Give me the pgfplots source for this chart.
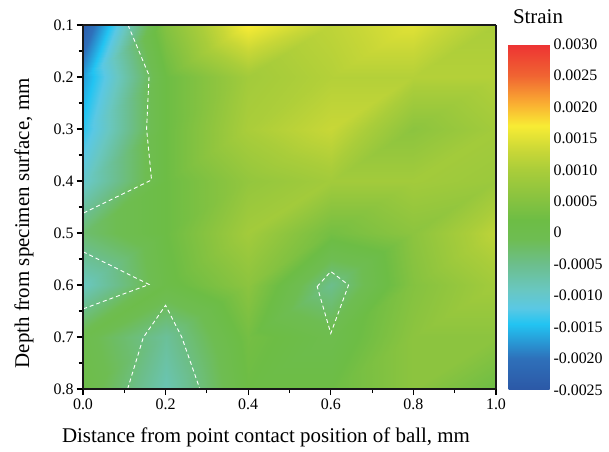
\documentclass[border=0pt]{standalone}
\usepackage{pgfplots}
\pgfplotsset{compat=1.18}
\usepackage{fontspec}
\setmainfont{Liberation Serif}

% strain values on the measuring grid, x varies fastest
\pgfplotstableread{
x   y   z
0.0 0.1 -0.0024
0.2 0.1 0.0005
0.4 0.1 0.0017
0.6 0.1 0.0012
0.8 0.1 0.0015
1.0 0.1 0.0010
0.0 0.2 -0.0017
0.2 0.2 0.0002
0.4 0.2 0.0009
0.6 0.2 0.0011
0.8 0.2 0.0011
1.0 0.2 0.0011
0.0 0.3 -0.0014
0.2 0.3 0.0002
0.4 0.3 0.0010
0.6 0.3 0.0013
0.8 0.3 0.0006
1.0 0.3 0.0009
0.0 0.4 -0.0010
0.2 0.4 0.0002
0.4 0.4 0.0007
0.6 0.4 0.0009
0.8 0.4 0.0009
1.0 0.4 0.0008
0.0 0.5 -0.0003
0.2 0.5 0.0002
0.4 0.5 0.0009
0.6 0.5 0.0003
0.8 0.5 0.0006
1.0 0.5 0.0012
0.0 0.6 -0.0009
0.2 0.6 0.0001
0.4 0.6 0.0006
0.6 0.6 -0.0005
0.8 0.6 0.0005
1.0 0.6 0.0009
0.0 0.7 0.0000
0.2 0.7 -0.0006
0.4 0.7 0.0003
0.6 0.7 0.0000
0.8 0.7 0.0006
1.0 0.7 0.0006
0.0 0.8 0.0001
0.2 0.8 -0.0008
0.4 0.8 0.0002
0.6 0.8 0.0002
0.8 0.8 0.0006
1.0 0.8 0.0002
}\straindata

\begin{document}
\begin{tikzpicture}
\begin{axis}[
    name=main,
    view={0}{90},
    scale only axis,
    width=413bp, height=364bp,
    xmin=0, xmax=1, ymin=0.1, ymax=0.8,
    y dir=reverse,
    enlargelimits=false,
    axis on top,
    xtick={0,0.2,...,1.0},
    ytick={0.1,0.2,...,0.8},
    minor tick num=1,
    tick pos=left,
    tick align=outside,
    major tick length=6bp,
    minor tick length=4bp,
    every tick/.style={line width=1.1bp, black},
    axis line style={line width=1.2bp, black!90},
    xticklabel style={/pgf/number format/.cd, fixed, fixed zerofill, precision=1},
    yticklabel style={/pgf/number format/.cd, fixed, fixed zerofill, precision=1},
    /pgf/number format/assume math mode=true,
    tick label style={font=\fontsize{16}{18}\selectfont},
    label style={font=\fontsize{21}{24}\selectfont},
    xlabel={Distance from point contact position of ball, mm},
    ylabel={Depth from specimen surface, mm},
    xlabel style={at={(axis description cs:0.443,-0.132)}, anchor=center},
    ylabel style={at={(axis description cs:-0.143,0.455)}, anchor=center},
    colormap={strain}{
        rgb255(0pt)=(44,88,166);
        rgb255(5pt)=(46,112,186);
        rgb255(10.5pt)=(34,196,242);
        rgb255(13pt)=(90,200,228);
        rgb255(16pt)=(105,199,192);
        rgb255(20pt)=(108,190,140);
        rgb255(24pt)=(110,189,82);
        rgb255(27pt)=(109,189,69);
        rgb255(31pt)=(140,196,63);
        rgb255(35pt)=(170,205,58);
        rgb255(38pt)=(200,215,55);
        rgb255(42pt)=(248,236,52);
        rgb255(45.5pt)=(250,175,50);
        rgb255(50pt)=(240,100,50);
        rgb255(55pt)=(237,50,51)
    },
    point meta min=-0.0025, point meta max=0.003,
    colorbar,
    colorbar/width=41bp,
    colorbar style={
        at={(parent axis.south east)}, anchor=south west,
        xshift=4bp, yshift=-1bp,
        scale only axis,
        width=41bp, height=346bp,
        axis line style={draw=none},
        major tick length=0pt,
        scaled y ticks=false,
        ytick={-0.0025,-0.002,-0.0015,-0.001,-0.0005,0,0.0005,0.001,0.0015,0.002,0.0025,0.003},
        yticklabels={-0.0025,-0.0020,-0.0015,-0.0010,-0.0005,0,0.0005,0.0010,0.0015,0.0020,0.0025,0.0030},
        yticklabel style={font=\fontsize{16}{18}\selectfont, xshift=0.5bp},
        title={Strain},
        title style={at={(0,1)}, anchor=base west, yshift=15bp, xshift=1bp,
            font=\fontsize{21}{24}\selectfont},
    },
]
\addplot3[surf, shader=interp, mesh/rows=8, mesh/cols=6] table[x=x, y=y, z=z] {\straindata};

% dashed contour lines bounding the negative-strain regions
\addplot3[white, line width=0.9bp, dash pattern=on 4bp off 3bp] coordinates {
    (0.109,0.1,0) (0.160,0.197,0) (0.154,0.3,0) (0.166,0.398,0) (0.0,0.462,0)
};
\addplot3[white, line width=0.9bp, dash pattern=on 4bp off 3bp] coordinates {
    (0.0,0.536,0) (0.160,0.599,0) (0.0,0.646,0)
};
\addplot3[white, line width=0.9bp, dash pattern=on 4bp off 3bp] coordinates {
    (0.108,0.8,0) (0.146,0.701,0) (0.2,0.639,0) (0.239,0.7,0) (0.283,0.8,0)
};
\addplot3[white, line width=0.9bp, dash pattern=on 4bp off 3bp] coordinates {
    (0.567,0.603,0) (0.6,0.574,0) (0.643,0.6,0) (0.6,0.693,0) (0.567,0.603,0)
};
\end{axis}
\path ([shift={(-83bp,389bp)}]main.south west) rectangle ([shift={(526bp,-63bp)}]main.south west);
\end{tikzpicture}
\end{document}
